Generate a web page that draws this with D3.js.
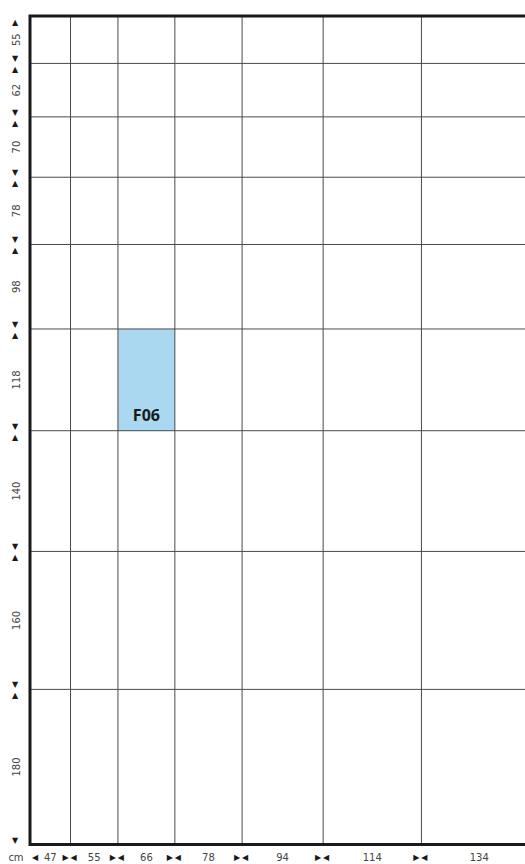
<!DOCTYPE html>
<html>
<head>
<meta charset="utf-8">
<script src="https://cdn.jsdelivr.net/npm/d3@7"></script>
<style>
  body { margin: 0; background: #fff; }
  svg { display: block; }
  .lbl { font-family: "DejaVu Sans", sans-serif; font-size: 10px; fill: #444; }
  .tri { font-family: "DejaVu Sans", sans-serif; font-size: 8px; fill: #1a1a1a; }
</style>
</head>
<body>
<div id="chart"></div>
<script>
// column widths (cm) and row heights (cm)
var widthCm = [47, 55, 66, 78, 94, 114, 134]
var heightCm = [55, 62, 70, 78, 98, 118, 140, 160, 180]
var unitLabel = "cm"
// highlighted cells
var cellCodes = ["F06"]
var cellCols = [66]
var cellRows = [118]

var W = 525, H = 864
var k = 0.8622
var origin = { x: 30, y: 16 }

var svg = d3.select('#chart').append('svg')
    .attr('width', W)
    .attr('height', H)

var xEdges = [0].concat(Array.from(d3.cumsum(widthCm)))
var yEdges = [0].concat(Array.from(d3.cumsum(heightCm)))

var x = d3.scaleLinear()
    .domain([0, d3.sum(widthCm)])
    .range([origin.x, origin.x + d3.sum(widthCm) * k])
var y = d3.scaleLinear()
    .domain([0, d3.sum(heightCm)])
    .range([origin.y, origin.y + d3.sum(heightCm) * k])

var yBottom = y(d3.sum(heightCm))

// highlighted cells
cellCodes.forEach(function(code, i) {
    var ci = widthCm.indexOf(cellCols[i])
    var ri = heightCm.indexOf(cellRows[i])
    var x0 = x(xEdges[ci]), x1 = x(xEdges[ci + 1])
    var y0 = y(yEdges[ri]), y1 = y(yEdges[ri + 1])
    svg.append('rect')
        .attr('x', x0).attr('y', y0)
        .attr('width', x1 - x0).attr('height', y1 - y0)
        .attr('fill', '#a9d8f0')
    svg.append('text')
        .attr('x', (x0 + x1) / 2)
        .attr('y', y1 - 10)
        .attr('text-anchor', 'middle')
        .style('font-family', '"Open Sans", sans-serif')
        .style('font-weight', 'bold')
        .style('font-size', '16px')
        .style('fill', '#1a1a1a')
        .text(code)
})

// grid
svg.selectAll('line.v')
    .data(xEdges.slice(1, -1))
    .enter().append('line')
    .attr('class', 'v')
    .attr('x1', function(d) { return x(d) }).attr('x2', function(d) { return x(d) })
    .attr('y1', origin.y).attr('y2', yBottom)
    .attr('stroke', '#4a4a4a').attr('stroke-width', 1)

svg.selectAll('line.h')
    .data(yEdges.slice(1, -1))
    .enter().append('line')
    .attr('class', 'h')
    .attr('x1', origin.x).attr('x2', x(d3.sum(widthCm)))
    .attr('y1', function(d) { return y(d) }).attr('y2', function(d) { return y(d) })
    .attr('stroke', '#4a4a4a').attr('stroke-width', 1)

// frame
svg.append('path')
    .attr('d', 'M' + x(d3.sum(widthCm)) + ',' + origin.y + 'H' + origin.x + 'V' + yBottom + 'H' + x(d3.sum(widthCm)))
    .attr('fill', 'none')
    .attr('stroke', '#1a1a1a')
    .attr('stroke-width', 3)

// y axis labels
heightCm.forEach(function(v, i) {
    var y0 = y(yEdges[i]), y1 = y(yEdges[i + 1])
    svg.append('text').attr('class', 'lbl')
        .attr('transform', 'translate(20,' + ((y0 + y1) / 2) + ') rotate(-90)')
        .attr('text-anchor', 'middle')
        .text(v)
    svg.append('text').attr('class', 'tri')
        .attr('x', 15).attr('y', y0 + 9)
        .attr('text-anchor', 'middle')
        .text('\u25B2')
    svg.append('text').attr('class', 'tri')
        .attr('x', 15).attr('y', y1 - 2)
        .attr('text-anchor', 'middle')
        .text('\u25BC')
})

// x axis labels
svg.append('text').attr('class', 'lbl')
    .attr('x', 16).attr('y', 861)
    .attr('text-anchor', 'middle')
    .text(unitLabel)

widthCm.forEach(function(v, i) {
    var x0 = x(xEdges[i]), x1 = x(xEdges[i + 1])
    svg.append('text').attr('class', 'lbl')
        .attr('x', (x0 + x1) / 2).attr('y', 861)
        .attr('text-anchor', 'middle')
        .text(v)
    svg.append('text').attr('class', 'tri')
        .attr('x', x0 + (i == 0 ? 5 : 3)).attr('y', 860)
        .attr('text-anchor', 'middle')
        .text('\u25C0')
    // the last end marker falls outside the page
    if (x1 - 5 < W - 4) {
        svg.append('text').attr('class', 'tri')
            .attr('x', x1 - 5).attr('y', 860)
            .attr('text-anchor', 'middle')
            .text('\u25B6')
    }
})
</script>
</body>
</html>
